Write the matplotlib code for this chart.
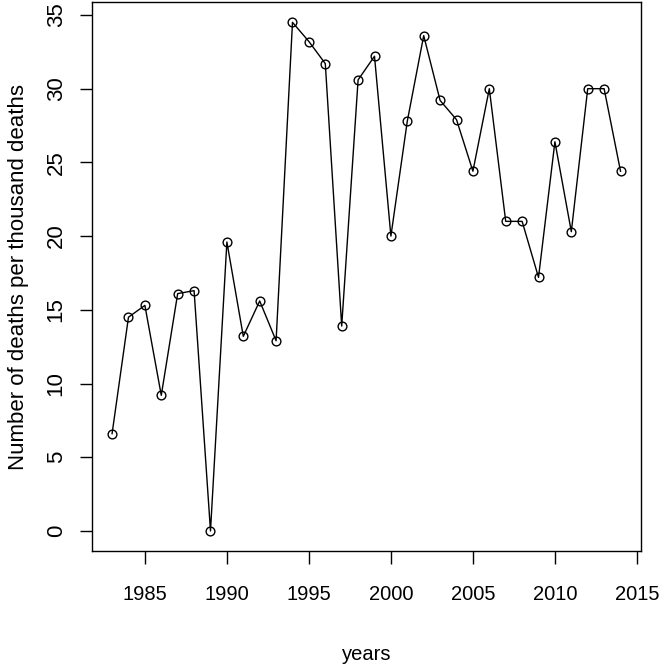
import matplotlib
matplotlib.use("Agg")
import matplotlib.pyplot as plt

plt.rcParams['font.family'] = ['Liberation Sans', 'DejaVu Sans']

years = list(range(1983, 2015))
deaths = [6.6, 14.5, 15.3, 9.2, 16.1, 16.3, 0.0, 19.6, 13.2, 15.6,
          12.9, 34.5, 33.2, 31.7, 13.9, 30.6, 32.2, 20.0, 27.8, 33.6,
          29.2, 27.9, 24.4, 30.0, 21.0, 21.0, 17.2, 26.4, 20.3, 30.0,
          30.0, 24.4]
xticks = [1985, 1990, 1995, 2000, 2005, 2010, 2015]
yticks = [0, 5, 10, 15, 20, 25, 30, 35]

fig = plt.figure(figsize=(6.6, 6.65), dpi=100)
ax = fig.add_axes([0.139, 0.171, 0.832, 0.826])

ax.plot(years, deaths, color='black', linewidth=1.0, marker='o',
        markersize=6.3, markerfacecolor='none', markeredgecolor='black',
        markeredgewidth=1.0)

# R-style 4% padding
xr = years[-1] - years[0]
ax.set_xlim(years[0] - 0.04 * xr, years[-1] + 0.04 * xr)
yr = max(deaths) - min(deaths)
ax.set_ylim(min(deaths) - 0.04 * yr, max(deaths) + 0.04 * yr)

ax.set_xticks(xticks)
ax.set_yticks(yticks)
ax.set_yticklabels([str(t) for t in yticks], rotation=90, va='center')
ax.tick_params(direction='out', length=9, width=1.0)
ax.tick_params(axis='x', labelsize=14.5, pad=15)
ax.tick_params(axis='y', labelsize=16, pad=9)
for s in ax.spines.values():
    s.set_linewidth(1.0)

ax.set_xlabel('years', fontsize=14.5, labelpad=30)
ax.set_ylabel('Number of deaths per thousand deaths', fontsize=16, labelpad=12)

fig.savefig('out.png', dpi=100)
